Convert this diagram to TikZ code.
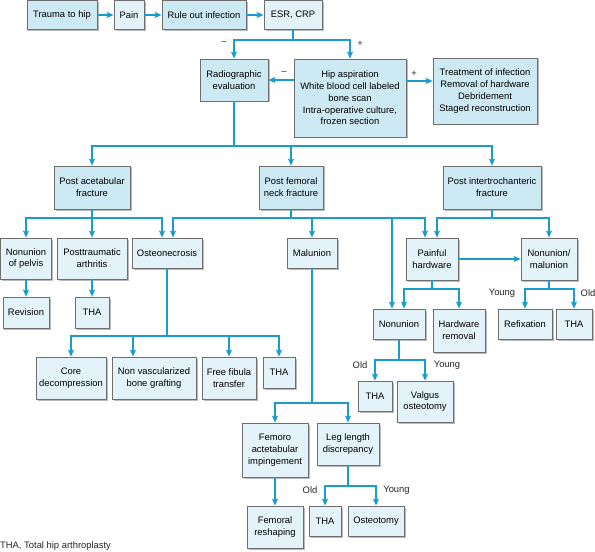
\documentclass[tikz,border=0pt]{standalone}
\usepackage{fontspec}
\setmainfont{Liberation Sans}
\usetikzlibrary{arrows.meta,shadows}
\definecolor{dk}{HTML}{CDEAF4}
\definecolor{lt}{HTML}{E4F3F9}
\definecolor{lnc}{HTML}{1A9CCC}
\definecolor{bd}{HTML}{6E6E6E}
\newcommand\mybox[7]{\node[#6, minimum width={(#4-#2)*1.00375}, minimum height={(#5-#3)*1.00375}] (#1) at ({(#2+#4)/2},{(#3+#5)/2}) {#7};}
\begin{document}
\begin{tikzpicture}[x=1bp,y=-1bp,
  box/.style={draw=bd, line width=0.7bp, align=center, inner sep=0pt,
    font=\fontsize{9.4bp}{11.8bp}\selectfont,
    drop shadow={shadow xshift=1.5bp, shadow yshift=-1.5bp, fill=black!45, opacity=0.6}},
  dkbox/.style={box, fill=dk},
  ltbox/.style={box, fill=lt},
  wire/.style={draw=lnc, line width=1.5bp},
  arr/.style={wire, -{Stealth[length=7bp,width=6bp,inset=1.5bp]}},
  lbl/.style={font=\fontsize{9.4bp}{11.8bp}\selectfont, inner sep=0pt, text=black!85}]
\useasboundingbox (0,0) rectangle (595,552);
% boxes
\mybox{trauma}{27}{0.5}{97}{29.5}{dkbox}{Trauma to hip}
\mybox{pain}{114}{0.5}{144}{29.5}{ltbox}{Pain}
\mybox{rule}{162}{0.5}{246}{29.5}{dkbox}{Rule out infection}
\mybox{esr}{264}{0.5}{322}{29.5}{ltbox}{ESR, CRP}
\mybox{rad}{200}{59}{268}{101}{dkbox}{Radiographic\\evaluation}
\mybox{hip}{294}{59}{406}{137}{dkbox}{Hip aspiration\\White blood cell labeled\\bone scan\\Intra-operative culture,\\frozen section}
\mybox{treat}{433}{58}{537}{124}{dkbox}{Treatment of infection\\Removal of hardware\\Debridement\\Staged reconstruction}
\mybox{pa}{54}{166}{130}{209}{dkbox}{Post acetabular\\fracture}
\mybox{pf}{259}{166}{323}{209}{dkbox}{Post femoral\\neck fracture}
\mybox{pi}{443}{166}{541}{209}{dkbox}{Post intertrochanteric\\fracture}
\mybox{np}{0.5}{238}{51.5}{279}{ltbox}{Nonunion\\of pelvis}
\mybox{pt}{57}{238}{127}{279}{ltbox}{Posttraumatic\\arthritis}
\mybox{os}{132}{238}{202}{268}{ltbox}{Osteonecrosis}
\mybox{mal}{287}{238}{337}{268}{ltbox}{Malunion}
\mybox{ph}{406}{238}{458}{280}{ltbox}{Painful\\hardware}
\mybox{nm}{521}{238}{577}{280}{ltbox}{Nonunion/\\malunion}
\mybox{rev}{3}{297}{49}{328}{ltbox}{Revision}
\mybox{thaa}{75}{297}{109}{328}{ltbox}{THA}
\mybox{nu}{373}{309}{425}{339}{ltbox}{Nonunion}
\mybox{hr}{433}{309}{485}{352}{ltbox}{Hardware\\removal}
\mybox{refix}{498}{309}{552}{339}{ltbox}{Refixation}
\mybox{thab}{556}{309}{592}{339}{ltbox}{THA}
\mybox{thac}{358}{381}{392}{411}{ltbox}{THA}
\mybox{val}{397}{381}{453}{422}{ltbox}{Valgus\\osteotomy}
\mybox{core}{36}{357}{106}{399}{ltbox}{Core\\decompression}
\mybox{nvb}{112}{357}{196}{399}{ltbox}{Non vascularized\\bone grafting}
\mybox{ff}{202}{357}{256}{399}{ltbox}{Free fibula\\transfer}
\mybox{thad}{263}{357}{295}{388}{ltbox}{THA}
\mybox{fai}{242}{423}{308}{477}{ltbox}{Femoro\\actetabular\\impingement}
\mybox{leg}{317}{423}{379}{465}{ltbox}{Leg length\\discrepancy}
\mybox{fr}{247}{506}{303}{548}{ltbox}{Femoral\\reshaping}
\mybox{thae}{309}{506}{341}{536}{ltbox}{THA}
\mybox{ost}{348}{506}{404}{536}{ltbox}{Osteotomy}
% top row
\draw[arr] (trauma.east) -- (pain.west);
\draw[arr] (pain.east) -- (rule.west);
\draw[arr] (rule.east) -- (esr.west);
% ESR split
\coordinate (j0) at (esr.south |- 0,40);
\draw[wire] (esr.south) -- (j0);
\draw[arr] (j0) -| (rad.north);
\draw[arr] (j0) -| (hip.north);
\draw[arr] (hip.west |- rad.east) -- (rad.east);
\draw[arr] (hip.east |- 0,81) -- (treat.west |- 0,81);
% radiographic split
\coordinate (j1) at (rad.south |- 0,146);
\draw[wire] (rad.south) -- (j1);
\draw[arr] (j1) -| (pa.north);
\draw[arr] (j1) -| (pf.north);
\draw[arr] (j1) -| (pi.north);
% post acetabular
\coordinate (j2) at (pa.south |- 0,218);
\draw[wire] (pa.south) -- (j2);
\draw[arr] (j2) -| (np.north);
\draw[arr] (j2) -| (pt.north);
\draw[arr] (j2) -| ([xshift=-5bp]os.north);
% post femoral
\coordinate (j3) at (pf.south |- 0,218);
\draw[wire] (pf.south) -- (j3);
\draw[arr] (j3) -| ([xshift=6bp]os.north);
\draw[arr] (j3) -| (mal.north);
\draw[arr] (j3) -| ([xshift=-7bp]nu.north);
\draw[arr] (j3) -| ([xshift=-7bp]ph.north);
% post intertrochanteric
\coordinate (j4) at (pi.south |- 0,218);
\draw[wire] (pi.south) -- (j4);
\draw[arr] (j4) -| ([xshift=5bp]ph.north);
\draw[arr] (j4) -| (nm.north);
\draw[arr] (ph.east) -- (nm.west);
% second level
\draw[arr] (np.south) -- (np.south |- rev.north);
\draw[arr] (pt.south) -- (pt.south |- thaa.north);
\coordinate (j5) at (ph.south |- 0,289);
\draw[wire] (ph.south) -- (j5);
\draw[arr] (j5) -| ([xshift=5bp]nu.north);
\draw[arr] (j5) -| (hr.north);
\coordinate (j6) at (nm.south |- 0,289);
\draw[wire] (nm.south) -- (j6);
\draw[arr] (j6) -| (refix.north);
\draw[arr] (j6) -| (thab.north);
\coordinate (j7) at (nu.south |- 0,360);
\draw[wire] (nu.south) -- (j7);
\draw[arr] (j7) -| (thac.north);
\draw[arr] (j7) -| (val.north);
% osteonecrosis
\coordinate (j8) at (os.south |- 0,336);
\draw[wire] (os.south) -- (j8);
\draw[arr] (j8) -| (core.north);
\draw[arr] (j8) -| ([xshift=-21bp]nvb.north);
\draw[arr] (j8) -| (ff.north);
\draw[arr] (j8) -| (thad.north);
% malunion
\coordinate (j9) at (mal.south |- 0,403);
\draw[wire] (mal.south) -- (j9);
\draw[arr] (j9) -| (fai.north);
\draw[arr] (j9) -| (leg.north);
\draw[arr] (fai.south) -- (fai.south |- fr.north);
\coordinate (j10) at (leg.south |- 0,486);
\draw[wire] (leg.south) -- (j10);
\draw[arr] (j10) -| (thae.north);
\draw[arr] (j10) -| (ost.north);
% labels
\node[lbl] (m1) at (224,43) {\textendash};
\node[lbl] (p1) at (360,44) {+};
\node[lbl] (m2) at (284,73) {\textendash};
\node[lbl] (p2) at (414,74) {+};
\node[lbl] (y1) at (502,293) {Young};
\node[lbl] (o1) at (588,293) {Old};
\node[lbl] (o2) at (360,365) {Old};
\node[lbl] (y2) at (447,365) {Young};
\node[lbl] (o3) at (310,490) {Old};
\node[lbl] (y3) at (396.5,490) {Young};
\node[lbl, anchor=west] (foot) at (0,546) {THA, Total hip arthroplasty};
\end{tikzpicture}
\end{document}
